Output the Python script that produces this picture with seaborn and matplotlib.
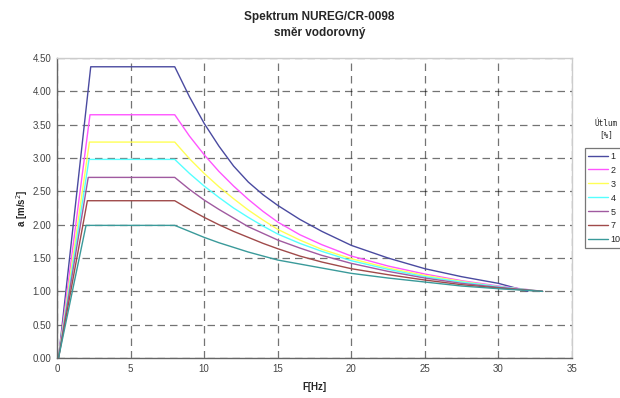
import numpy as np
import pandas as pd
import matplotlib
matplotlib.use("Agg")
import matplotlib.pyplot as plt
import seaborn as sns

# damping levels [%] and series colours (Excel default palette)
damping = ["1", "2", "3", "4", "5", "7", "10"]
colors = ["#4a4aa0", "#ff55ff", "#ffff55", "#55ffff", "#a05aa0", "#a04a4a", "#3a9a9a"]

# corner frequencies of the rising branch (Hz) and plateau values (m/s2)
f_peak = [2.29, 2.24, 2.20, 2.17, 2.12, 2.06, 1.97]
a_peak = [4.37, 3.65, 3.24, 2.98, 2.71, 2.36, 1.99]

f_decay = [8, 9, 10, 11, 12, 13, 14, 15, 16.5, 18, 20, 22.5, 25, 27.5, 30]
f_end = [32.0, 33.0, 33.0, 33.0, 33.0, 33.0, 33.0]

# decay branch values at f_decay, then the end value
a_1 = [4.37, 3.92, 3.52, 3.18, 2.88, 2.64, 2.45, 2.29, 2.08, 1.90, 1.69, 1.50, 1.34, 1.22, 1.12, 1.00]
a_2 = [3.65, 3.33, 3.05, 2.80, 2.58, 2.38, 2.20, 2.04, 1.85, 1.70, 1.53, 1.38, 1.26, 1.16, 1.08, 1.00]
a_3 = [3.24, 2.99, 2.77, 2.57, 2.39, 2.22, 2.07, 1.93, 1.77, 1.63, 1.49, 1.35, 1.24, 1.15, 1.07, 1.00]
a_4 = [2.98, 2.77, 2.58, 2.41, 2.25, 2.11, 1.98, 1.86, 1.72, 1.60, 1.46, 1.33, 1.22, 1.14, 1.07, 1.00]
a_5 = [2.71, 2.53, 2.37, 2.23, 2.10, 1.97, 1.87, 1.77, 1.65, 1.54, 1.42, 1.30, 1.20, 1.12, 1.06, 1.00]
a_7 = [2.36, 2.23, 2.11, 2.00, 1.90, 1.81, 1.72, 1.64, 1.53, 1.44, 1.34, 1.25, 1.17, 1.10, 1.05, 1.00]
a_10 = [1.99, 1.90, 1.81, 1.73, 1.66, 1.59, 1.53, 1.47, 1.41, 1.35, 1.27, 1.20, 1.14, 1.08, 1.04, 1.00]
decay = [a_1, a_2, a_3, a_4, a_5, a_7, a_10]

rows = []
for i, d in enumerate(damping):
    fs = [0.1, f_peak[i]] + f_decay + [f_end[i]]
    As = [0.0, a_peak[i]] + decay[i]
    for k, (f, a) in enumerate(zip(fs, As)):
        rows.append({"F": f, "a": a, "Utlum": d, "k": k})
df = pd.DataFrame(rows)

sns.set_style("white")
plt.rcParams["font.family"] = ["Liberation Sans", "DejaVu Sans"]

fig = plt.figure(figsize=(6.2, 3.98), dpi=100)
ax = fig.add_axes([0.092, 0.1005, 0.8306, 0.7535])

sns.lineplot(data=df, x="F", y="a", hue="Utlum", hue_order=damping,
             palette=colors, sort=False, estimator=None, units="Utlum",
             linewidth=1.0, ax=ax, legend=True)

ax.set_xlim(0, 35)
ax.set_ylim(0, 4.5)
ax.set_xticks(np.arange(0, 36, 5))
ax.set_yticks(np.arange(0, 4.51, 0.5))
ax.set_yticklabels([f"{v:.2f}" for v in np.arange(0, 4.51, 0.5)])
ax.tick_params(axis="both", labelsize=7, colors="#444444", direction="inout",
               length=4, width=0.8, pad=2)
ax.grid(True, color="black", alpha=0.55, linestyle=(0, (6, 4)), linewidth=0.9)
for s in ["left", "bottom"]:
    ax.spines[s].set_color("#666666")
    ax.spines[s].set_linewidth(1.0)
for s in ["top", "right"]:
    ax.spines[s].set_color("#cccccc")
    ax.spines[s].set_linewidth(1.0)

ax.set_xlabel("F[Hz]", fontsize=7, fontweight="bold", labelpad=6)
ax.set_ylabel("a [m/s$^2$]", fontsize=7, fontweight="bold", labelpad=2)

fig.text(0.515, 0.958, "Spektrum NUREG/CR-0098", ha="center", va="center",
         fontsize=8.5, fontweight="bold")
fig.text(0.515, 0.917, "směr vodorovný", ha="center", va="center",
         fontsize=8.5, fontweight="bold")

# legend, title set apart above the box
fig.text(0.978, 0.675, "Útlum\n[%]", ha="center", va="center", fontsize=5.5,
         family=["DejaVu Sans Mono"], linespacing=1.3)
leg = ax.legend(loc="upper left", bbox_to_anchor=(0.943, 0.628),
                bbox_transform=fig.transFigure, fontsize=6.5, frameon=True,
                fancybox=False, handlelength=2.2, handletextpad=0.25,
                labelspacing=0.55, borderpad=0.4, borderaxespad=0)
leg.get_frame().set_edgecolor("#555555")
leg.get_frame().set_linewidth(0.9)

fig.savefig("out.png", dpi=100)
